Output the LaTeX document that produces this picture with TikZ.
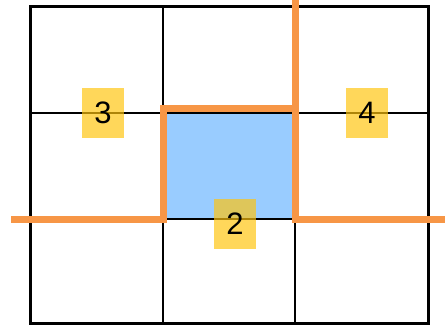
\documentclass[tikz,border=0pt]{standalone}
\usepackage{fontspec}
\setmainfont{Liberation Sans}
\definecolor{cellblue}{RGB}{153,204,255}
\definecolor{pathorange}{RGB}{247,150,70}
\definecolor{tagyellow}{RGB}{255,196,12}
\begin{document}
\begin{tikzpicture}[x=1pt,y=-1pt,
  gridline/.style={line width=1.3pt,black},
  frameline/.style={line width=3pt,black},
  route/.style={line width=7pt,pathorange,line join=miter},
  tag/.style={fill=tagyellow,fill opacity=0.68,text opacity=1,minimum width=42pt,minimum height=50pt,inner sep=0pt,font=\fontsize{31}{31}\selectfont}]
\useasboundingbox (0,0) rectangle (445,328);
\fill[cellblue] (163,113) rectangle (295,219);
\draw[gridline] (163,7) -- (163,324);
\draw[gridline] (295,7) -- (295,324);
\draw[gridline] (30,113) -- (428,113);
\draw[gridline] (30,219) -- (428,219);
\draw[frameline] (30,7) rectangle (428,324);
\draw[route] (11,219.5) -- (163,219.5) -- (163,108.5) -- (298.5,108.5);
\draw[route] (295,0) -- (295,219.5) -- (445,219.5);
\node[tag] (t3) at (103,113) {3};
\node[tag] (t4) at (367,113) {4};
\node[tag] (t2) at (235,224) {2};
\end{tikzpicture}
\end{document}
